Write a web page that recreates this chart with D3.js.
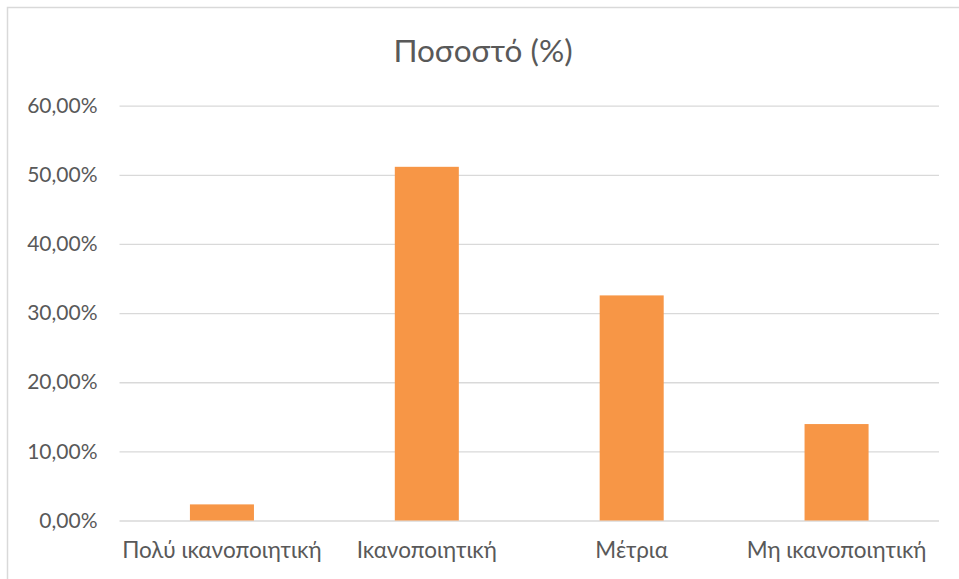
<!DOCTYPE html>
<html>
<head>
<meta charset="utf-8">
<script src="https://cdn.jsdelivr.net/npm/d3@7"></script>
<style>
  html, body { margin: 0; padding: 0; background: #fff; }
  svg { display: block; }
  text { font-family: Lato, "Open Sans", sans-serif; fill: #595959; }
</style>
</head>
<body>
<svg id="chart" width="959" height="579"></svg>
<script>
// Survey answers and their share of responses
const categories = ["Πολύ ικανοποιητική", "Ικανοποιητική", "Μέτρια", "Μη ικανοποιητική"];
const percentages = [2.33, 51.16, 32.56, 13.95];
const yTicks = [0, 10, 20, 30, 40, 50, 60];
const chartTitle = "Ποσοστό (%)";

const svg = d3.select("#chart");
const W = 959, H = 579;
const plot = { left: 119.5, right: 939, top: 105.7, bottom: 520.5 };
const font = "Lato, 'Open Sans', sans-serif";

// Outer chart frame (top and left edges)
svg.append("path")
  .attr("d", `M7.5,${H} V7.5 H${W}`)
  .attr("fill", "none")
  .attr("stroke", "#d9d9d9")
  .attr("stroke-width", 1.5);

const x = d3.scaleBand()
  .domain(categories)
  .range([plot.left, plot.right])
  .paddingInner(0.6875)
  .paddingOuter(0.34375);

const y = d3.scaleLinear()
  .domain([0, 60])
  .range([plot.bottom, plot.top]);

// Horizontal gridlines and percentage labels
const yAxis = d3.axisLeft(y)
  .tickValues(yTicks)
  .tickSize(-(plot.right - plot.left))
  .tickPadding(22)
  .tickFormat(d => d3.format(".2f")(d).replace(".", ",") + "%");

const gy = svg.append("g")
  .attr("transform", `translate(${plot.left},0)`)
  .call(yAxis);
gy.select(".domain").remove();
gy.selectAll(".tick line").attr("stroke", "#d9d9d9").attr("stroke-width", 1.3);
gy.selectAll(".tick text")
  .attr("font-size", 21)
  .attr("fill", "#595959")
  .attr("font-family", font);

// Bars
svg.append("g")
  .selectAll("rect")
  .data(percentages)
  .join("rect")
  .attr("x", (d, i) => x(categories[i]))
  .attr("width", x.bandwidth())
  .attr("y", d => y(d))
  .attr("height", d => y(0) - y(d))
  .attr("fill", "#f79646");

// Category labels
const xAxis = d3.axisBottom(x).tickSize(0).tickPadding(22);
const gx = svg.append("g")
  .attr("transform", `translate(0,${plot.bottom})`)
  .call(xAxis);
gx.select(".domain").remove();
gx.selectAll(".tick text")
  .attr("font-size", 22.5)
  .attr("fill", "#595959")
  .attr("font-family", font);

// Title
svg.append("text")
  .attr("x", 483)
  .attr("y", 62)
  .attr("text-anchor", "middle")
  .attr("font-size", 31.5)
  .attr("font-family", font)
  .text(chartTitle);
</script>
</body>
</html>
